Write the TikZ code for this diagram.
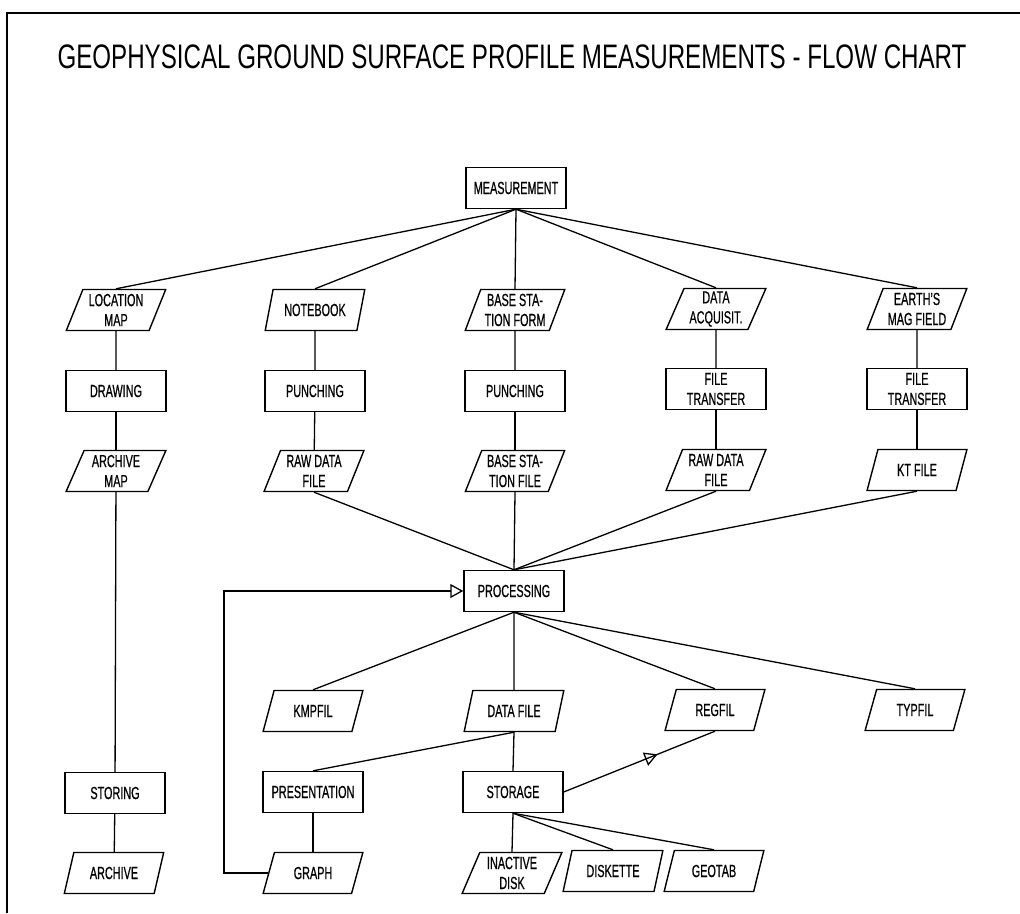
\documentclass[tikz,border=0pt]{standalone}
\usepackage{fontspec}
\setmainfont{Liberation Sans}[FakeStretch=0.62,FakeBold=0.6]
\newfontfamily\titlefont{Liberation Sans}[FakeStretch=0.71]
\usetikzlibrary{shapes.geometric,arrows.meta,decorations.markings}
\begin{document}
\begin{tikzpicture}[x=1pt,y=-1pt,
  every node/.style={font=\fontsize{17.5}{20}\selectfont, align=center, line width=1.4pt},
  box/.style={draw, rectangle, minimum width=100pt, minimum height=41pt, inner sep=1pt},
  io/.style={draw, trapezium, trapezium left angle=67.5, trapezium right angle=112.5,
     trapezium stretches=true, minimum width=100pt, minimum height=41pt, inner sep=1pt},
  link/.style={line width=1.3pt},
  opentip/.style={-{Triangle[open,length=13pt,width=14pt,line width=1.3pt]}},
  midtip/.style={postaction={decorate}, decoration={markings,
     mark=at position 0.62 with {\arrow{Triangle[open,length=13pt,width=14pt,line width=1.3pt]}}}}
]
\useasboundingbox (0,0) rectangle (1020,913);
% frame
\draw[line width=1.6pt] (7,913) -- (7,13) -- (1020,13);
% title
\node[font=\titlefont\fontsize{34}{38}\selectfont, anchor=base] (title) at (512,68)
  {GEOPHYSICAL GROUND SURFACE PROFILE MEASUREMENTS - FLOW CHART};

% nodes
\node[box] (meas) at (516,188) {MEASUREMENT};

\node[io] (locmap) at (116,310) {LOCATION\\MAP};
\node[io] (notebook) at (315,310) {NOTEBOOK};
\node[io] (bsform) at (515,310) {BASE STA-\\TION FORM};
\node[io] (dacq) at (716,309) {DATA\\ACQUISIT.};
\node[io] (earth) at (917,309) {EARTH'S\\MAG FIELD};

\node[box] (drawing) at (116,391) {DRAWING};
\node[box] (punch1) at (315,391) {PUNCHING};
\node[box] (punch2) at (515,391) {PUNCHING};
\node[box] (ftrans1) at (716,389) {FILE\\TRANSFER};
\node[box] (ftrans2) at (917,389) {FILE\\TRANSFER};

\node[io] (archmap) at (116,471) {ARCHIVE\\MAP};
\node[io] (rawdata1) at (314,471) {RAW DATA\\FILE};
\node[io] (bsfile) at (515,471) {BASE STA-\\TION FILE};
\node[io] (rawdata2) at (716,470) {RAW DATA\\FILE};
\node[io] (ktfile) at (917,470) {KT FILE};

\node[box] (proc) at (514,591) {PROCESSING};

\node[io] (kmpfil) at (313,711) {KMPFIL};
\node[io] (datafile) at (514,711) {DATA FILE};
\node[io] (regfil) at (715,710) {REGFIL};
\node[io] (typfil) at (915,710) {TYPFIL};

\node[box] (storing) at (115,793) {STORING};
\node[box] (present) at (313,792) {PRESENTATION};
\node[box] (storage) at (513,792) {STORAGE};

\node[io] (archive) at (114,873) {ARCHIVE};
\node[io] (graph) at (313,873) {GRAPH};
\node[io] (inactive) at (512,873) {INACTIVE\\DISK};
\node[io] (diskette) at (613,871) {DISKETTE};
\node[io] (geotab) at (714,871) {GEOTAB};

\coordinate (fbcorner) at (224,591);

% connectors
\foreach \t in {locmap,notebook,bsform,dacq,earth}
  \draw[link] (meas.south) -- (\t.north);
\draw[link] (locmap) -- (drawing);
\draw[link] (drawing) -- (archmap);
\draw[link] (archmap) -- (storing);
\draw[link] (storing) -- (archive);
\draw[link] (notebook) -- (punch1);
\draw[link] (punch1) -- (rawdata1);
\draw[link] (bsform) -- (punch2);
\draw[link] (punch2) -- (bsfile);
\draw[link] (dacq) -- (ftrans1);
\draw[link] (ftrans1) -- (rawdata2);
\draw[link] (earth) -- (ftrans2);
\draw[link] (ftrans2) -- (ktfile);
\foreach \s in {rawdata1,bsfile,rawdata2,ktfile}
  \draw[link] (\s.south) -- (proc.north);
\foreach \t in {kmpfil,datafile,regfil,typfil}
  \draw[link] (proc.south) -- (\t.north);
\draw[link] (datafile.south) -- (present.north);
\draw[link] (datafile.south) -- (storage.north);
\draw[link] (present) -- (graph);
\draw[link,midtip] (storage.east) -- (regfil.south);
\foreach \t in {inactive,diskette,geotab}
  \draw[link] (storage.south) -- (\t.north);
\draw[link,opentip] (graph.left side) -| (fbcorner) -- (proc.west);
\end{tikzpicture}
\end{document}
